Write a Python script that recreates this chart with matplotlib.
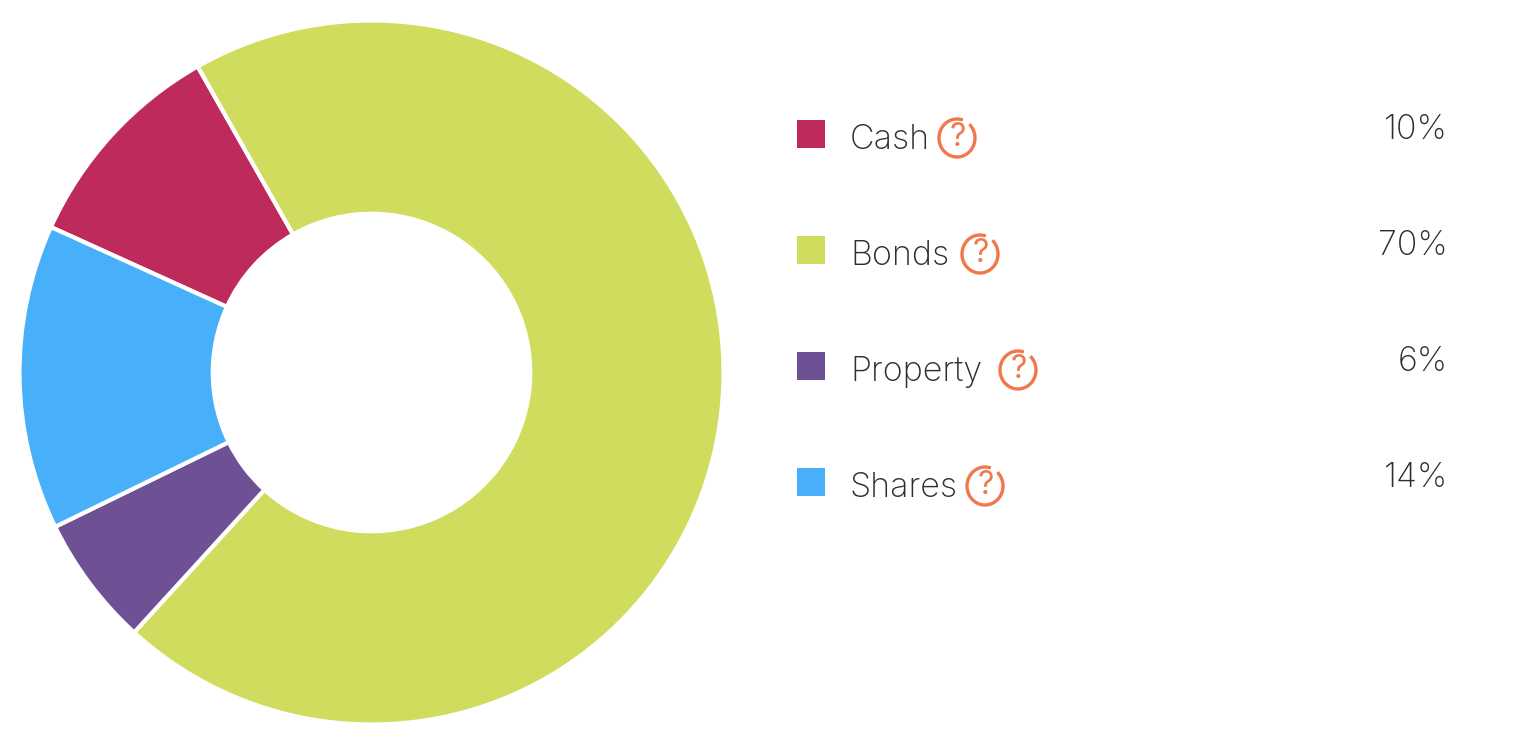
import matplotlib
matplotlib.use("Agg")
import matplotlib.pyplot as plt
from matplotlib.patches import Arc, Rectangle

labels = ["Cash", "Bonds", "Property", "Shares"]
values = [10, 70, 6, 14]
valueLabels = ["10%", "70%", "6%", "14%"]
colors = ["#BE2A5B", "#CFDC5E", "#6E5195", "#48AFFA"]
# where each legend row starts, and how far along the "?" icon sits
rowTops = [120, 236, 352, 468]
iconX = [957, 980, 1018, 985]

plt.rcParams["font.family"] = ["Inter", "Lato", "DejaVu Sans"]

figure = plt.figure(figsize=(15.18, 7.34), dpi=100)
ax = figure.add_axes([0, 0, 1, 1])
ax.set_xlim(0, 1518)
ax.set_ylim(734, 0)
ax.axis("off")

# pie() wants a y-up axes, so the donut gets its own one
pieAx = figure.add_axes([19.5 / 1518, 1 - 724.5 / 734, 704 / 1518, 704 / 734])
pieAx.pie(values, colors=colors, startangle=155.6, counterclock=False,
          radius=1.0, wedgeprops=dict(width=0.549, edgecolor="white", linewidth=3))
pieAx.set_xlim(-1, 1)
pieAx.set_ylim(-1, 1)

for i in range(len(labels)):
    top = rowTops[i]
    ax.add_patch(Rectangle((797, top), 28, 28, color=colors[i], lw=0))
    ax.text(850, top + 29, labels[i], fontsize=24.5, fontweight="light", color="#2E2E2E",
            va="baseline", ha="left")
    # hand drawn look: ring left open at the top right (y is flipped here)
    ax.add_patch(Arc((iconX[i], top + 18), 36, 38, theta1=-48, theta2=288,
                     ec="#F0784A", lw=2.4))
    ax.text(iconX[i] + 1, top + 18, "?", fontsize=23, color="#F0784A", va="center", ha="center")
    ax.text(1448, top + 19, valueLabels[i], fontsize=24.5, fontweight="light", color="#2E2E2E",
            va="baseline", ha="right")

plt.savefig("out.png", dpi=100)
